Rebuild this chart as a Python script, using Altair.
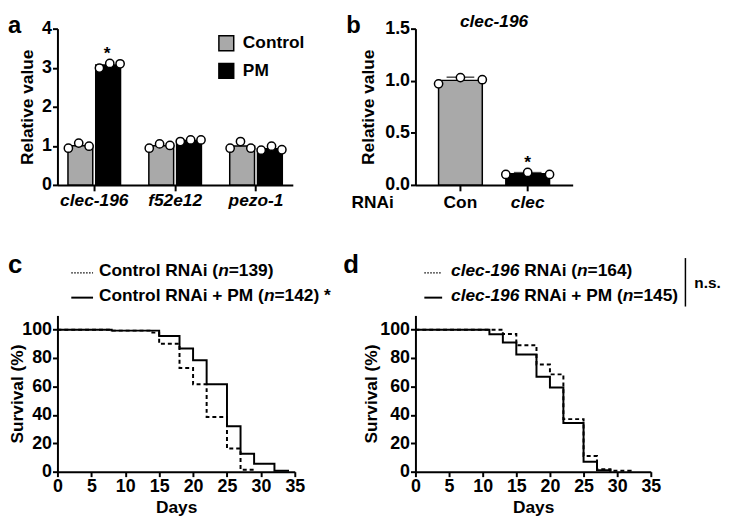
import altair as alt
import pandas as pd

FONT = "Liberation Sans"
GRAY = "#a9a9a9"

# ---------------- data ----------------
genes = ["clec-196", "f52e12", "pezo-1"]
groups_a = ["Control", "PM"]
a_control = [[0.94, 1.07, 0.99], [0.94, 1.05, 1.01], [0.94, 1.11, 0.94]]
a_pm = [[2.99, 3.11, 3.10], [1.11, 1.15, 1.15], [0.89, 0.99, 0.90]]
a_star_gene = ["clec-196"]
a_star_group = ["PM"]
a_star_value = [3.35]

conds_b = ["Con", "clec"]
b_reps = [[0.97, 1.03, 1.01], [0.10, 0.12, 0.10]]
b_star_cond = ["clec"]
b_star_value = [0.21]

series_c = ["Control RNAi", "Control RNAi + PM"]
days_c_ctrl = [0, 8, 14, 15, 18, 20, 22, 25, 27, 29]
surv_c_ctrl = [100, 99.3, 97.9, 90, 73, 61.5, 38.5, 16.3, 1.4, 0]
days_c_pm = [0, 8, 15, 18, 20, 22, 25, 27, 29, 32, 34]
surv_c_pm = [100, 99.3, 95.6, 86.7, 78.5, 61.5, 32, 12.6, 5.6, 0.7, 0]

series_d = ["clec-196 RNAi", "clec-196 RNAi + PM"]
days_d_ctrl = [0, 13, 15, 18, 20, 22, 25, 27, 29, 32]
surv_d_ctrl = [100, 96.9, 89, 75.5, 68.5, 37, 11, 1.8, 0.6, 0]
days_d_pm = [0, 11, 13, 15, 18, 20, 22, 25, 27, 29]
surv_d_pm = [100, 96.7, 90.9, 82.5, 66.9, 59.2, 34.3, 7, 1, 0]

a_ticks = [0, 1, 2, 3, 4]
b_ticks = [0, 0.5, 1.0, 1.5]
day_ticks = [0, 5, 10, 15, 20, 25, 30, 35]
surv_ticks = [0, 20, 40, 60, 80, 100]

# ---------------- helpers ----------------
ONE = pd.DataFrame({"k": [0]})
AB = {' ': 278, '(': 333, ')': 333, '*': 389, '+': 584, '-': 333, '.': 278, '=': 584,
      'A': 722, 'C': 722, 'M': 833, 'N': 722, 'P': 667, 'R': 722,
      'c': 556, 'e': 556, 'i': 278, 'l': 278, 'n': 611, 'o': 611, 'r': 389, 's': 556, 't': 333}
for d in "0123456789":
    AB[d] = 556


def tw(s, fs):
    return sum(AB.get(ch, 556) for ch in s) / 1000.0 * fs


def txt(s, x, y, size=17.5, italic=False, align="left", baseline="alphabetic"):
    return alt.Chart(ONE).mark_text(
        text=s, font=FONT, fontSize=size, fontWeight="bold",
        fontStyle="italic" if italic else "normal",
        align=align, baseline=baseline, color="black",
    ).encode(x=alt.value(x), y=alt.value(y))


def line_text(segs, x0, y, fs=17.5):
    out = []
    x = x0
    for s, it in segs:
        out.append(txt(s.strip(), x + (tw(" ", fs) if s.startswith(" ") else 0), y, size=fs, italic=it))
        x += tw(s, fs)
    return out


def sample(x1, x2, y, dotted):
    if dotted:
        m = alt.Chart(ONE).mark_rule(color="black", strokeWidth=1.2, strokeDash=[1.5, 1.5])
    else:
        m = alt.Chart(ONE).mark_rule(color="black", strokeWidth=2)
    return m.encode(x=alt.value(x1), x2=alt.value(x2), y=alt.value(y))


# ---------------- panel a ----------------
rows = []
for gi, g in enumerate(genes):
    for grp, reps in (("Control", a_control[gi]), ("PM", a_pm[gi])):
        for ri, v in enumerate(reps):
            rows.append({"gene": g, "group": grp, "slot": grp[0] + str(ri + 1), "value": v})
df_a = pd.DataFrame(rows)
slots_a = ["C1", "C2", "C3", "P1", "P2", "P3"]

xa = alt.Scale(domain=genes, paddingInner=0.35, paddingOuter=0.13)
xoff_a = alt.Scale(domain=groups_a, paddingInner=0.107, paddingOuter=0)
ya = alt.Scale(domain=[0, 4])
ya_axis = alt.Axis(title="Relative value", values=a_ticks, format="d", titlePadding=5)
xa_axis = alt.Axis(title=None, labelFontStyle="italic", labelAngle=0, labelFontSize=17.5,
                   tickSize=6, labelPadding=1)

bars_a = alt.Chart(df_a).mark_bar(stroke="black", strokeWidth=1.5).encode(
    x=alt.X("gene:N", scale=xa, axis=xa_axis),
    xOffset=alt.XOffset("group:N", scale=xoff_a),
    y=alt.Y("mean(value):Q", scale=ya, axis=ya_axis),
    fill=alt.Fill("group:N", scale=alt.Scale(domain=groups_a, range=[GRAY, "black"]),
                  legend=alt.Legend(orient="none", legendX=162, legendY=6, title=None,
                                    symbolType="square", symbolSize=225, symbolStrokeColor="black",
                                    symbolStrokeWidth=1.5, labelFont=FONT, labelFontSize=17.5,
                                    labelFontWeight="bold", labelColor="black", labelOffset=8,
                                    rowPadding=6, padding=0)),
)
pts_a = alt.Chart(df_a).mark_point(shape="circle", filled=True, fill="white", stroke="black",
                                   strokeWidth=1.5, size=70, opacity=1).encode(
    x=alt.X("gene:N", scale=xa, axis=xa_axis),
    xOffset=alt.XOffset("slot:N", scale=alt.Scale(domain=slots_a, paddingInner=0, paddingOuter=0.04)),
    y=alt.Y("value:Q", scale=ya, axis=ya_axis),
)
star_a = alt.Chart(pd.DataFrame({"gene": a_star_gene, "group": a_star_group, "v": a_star_value})).mark_text(
    text="*", font=FONT, fontSize=17.5, fontWeight="bold", baseline="middle", color="black", dx=-13.7).encode(
    x=alt.X("gene:N", scale=xa, axis=xa_axis),
    xOffset=alt.XOffset("group:N", scale=xoff_a),
    y=alt.Y("v:Q", scale=ya, axis=ya_axis),
)
pa = alt.layer(bars_a, pts_a, star_a, txt("a", -50, 4, size=24)).resolve_scale(
    xOffset="independent").properties(width=238, height=158)

# ---------------- panel b ----------------
rows = []
for ci, c in enumerate(conds_b):
    for ri, v in enumerate(b_reps[ci]):
        rows.append({"cond": c, "rep": str(ri + 1), "value": v})
df_b = pd.DataFrame(rows)
xb = alt.Scale(domain=conds_b, paddingInner=0.35, paddingOuter=0.344)
yb = alt.Scale(domain=[0, 1.5])
yb_axis = alt.Axis(title="Relative value", values=b_ticks, format=".1f", titlePadding=7)
xb_axis = alt.Axis(title=None, labelAngle=0, labelFontSize=17.5, tickSize=6, labelPadding=3,
                   labelFontStyle=alt.condition("datum.value == 'clec'", alt.value("italic"), alt.value("normal")))
bars_b = alt.Chart(df_b).mark_bar(stroke="black", strokeWidth=1.5).encode(
    x=alt.X("cond:N", scale=xb, axis=xb_axis),
    y=alt.Y("mean(value):Q", scale=yb, axis=yb_axis),
    fill=alt.Fill("cond:N", scale=alt.Scale(domain=conds_b, range=[GRAY, "black"]), legend=None),
)
err_base = alt.Chart(df_b).transform_aggregate(
    m="mean(value)", s="stdev(value)", groupby=["cond"]).transform_calculate(up="datum.m + datum.s")
err_rule = err_base.mark_rule(color="black", strokeWidth=1.5).encode(
    x=alt.X("cond:N", scale=xb, axis=xb_axis), y=alt.Y("m:Q", scale=yb, axis=yb_axis), y2="up:Q")
err_cap = err_base.mark_tick(color="black", thickness=1.5, size=28, orient="horizontal").encode(
    x=alt.X("cond:N", scale=xb, axis=xb_axis), y=alt.Y("up:Q", scale=yb, axis=yb_axis))
pts_b = alt.Chart(df_b).mark_point(shape="circle", filled=True, fill="white", stroke="black",
                                   strokeWidth=1.5, size=70, opacity=1).encode(
    x=alt.X("cond:N", scale=xb, axis=xb_axis),
    xOffset=alt.XOffset("rep:N", scale=alt.Scale(domain=["1", "2", "3"], paddingInner=0.684, paddingOuter=0)),
    y=alt.Y("value:Q", scale=yb, axis=yb_axis),
)
star_b = alt.Chart(pd.DataFrame({"cond": b_star_cond, "v": b_star_value})).mark_text(
    text="*", font=FONT, fontSize=17.5, fontWeight="bold", baseline="middle", color="black").encode(
    x=alt.X("cond:N", scale=xb, axis=xb_axis),
    y=alt.Y("v:Q", scale=yb, axis=yb_axis),
)
pb = alt.layer(bars_b, err_rule, err_cap, pts_b, star_b, txt("b", -70, 4, size=24),
               txt("RNAi", -22, 181, align="right"),
               txt("clec-196", 79.5, -2, italic=True, align="center")).resolve_scale(
    xOffset="independent").properties(width=159, height=158)


# ---------------- panels c / d ----------------
def surv_lines(series, days1, surv1, days2, surv2, tpad):
    df = pd.DataFrame({
        "day": days1 + days2,
        "surv": surv1 + surv2,
        "series": [series[0]] * len(days1) + [series[1]] * len(days2),
    })
    return alt.Chart(df).mark_line(interpolate="step-after", color="black", strokeWidth=2).encode(
        x=alt.X("day:Q", scale=alt.Scale(domain=[0, 35], nice=False),
                axis=alt.Axis(title="Days", values=day_ticks, labelFlush=False, titlePadding=3)),
        y=alt.Y("surv:Q", scale=alt.Scale(domain=[0, 110], nice=False),
                axis=alt.Axis(title="Survival (%)", values=surv_ticks, titlePadding=tpad)),
        strokeDash=alt.StrokeDash("series:N", scale=alt.Scale(domain=series, range=[[4, 3], [1, 0]]),
                                  legend=None),
        order=alt.Order("series:N"),
    )


lc = surv_lines(series_c, days_c_ctrl, surv_c_ctrl, days_c_pm, surv_c_pm, -5)
legend_c = [sample(14, 36, -43, True), sample(14, 36, -18, False)]
legend_c += line_text([("Control RNAi (", False), ("n", True), ("=139)", False)], 42, -40)
legend_c += line_text([("Control RNAi + PM (", False), ("n", True), ("=142) *", False)], 42, -15)
pc = alt.layer(lc, *legend_c, txt("c", -50, -43, size=26)).properties(width=240, height=158)

ld = surv_lines(series_d, days_d_ctrl, surv_d_ctrl, days_d_pm, surv_d_pm, -1)
legend_d = [sample(9, 27, -43, True), sample(9, 27, -18, False)]
legend_d += line_text([("clec-196", True), (" RNAi (", False), ("n", True), ("=164)", False)], 36, -40)
legend_d += line_text([("clec-196", True), (" RNAi + PM (", False), ("n", True), ("=145)", False)], 36, -15)
bracket = alt.Chart(ONE).mark_rule(color="black", strokeWidth=1.5).encode(
    x=alt.value(273), y=alt.value(-58), y2=alt.value(-9))
pdd = alt.layer(ld, *legend_d, bracket, txt("n.s.", 282, -28, size=15.5),
                txt("d", -73, -43, size=26)).properties(width=238, height=158)

chart = alt.concat(pa, pb, pc, pdd, columns=2, spacing={"row": 132, "column": 122}, bounds="flush").resolve_scale(
    fill="independent", strokeDash="independent").properties(
    autosize=alt.AutoSizeParams(type="none"),
    padding={"left": 50, "top": 18, "right": 673, "bottom": 496},
).configure_view(stroke=None).configure_axis(
    domainColor="black", domainWidth=2, tickColor="black", tickWidth=2, tickSize=5,
    labelFont=FONT, labelFontSize=18, labelFontWeight="bold", labelColor="black", labelPadding=1,
    labelOverlap=False,
    titleFont=FONT, titleFontSize=17.5, titleFontWeight="bold", titleColor="black", grid=False,
)

chart.save("out.html", embed_options={"renderer": "svg", "actions": False})
